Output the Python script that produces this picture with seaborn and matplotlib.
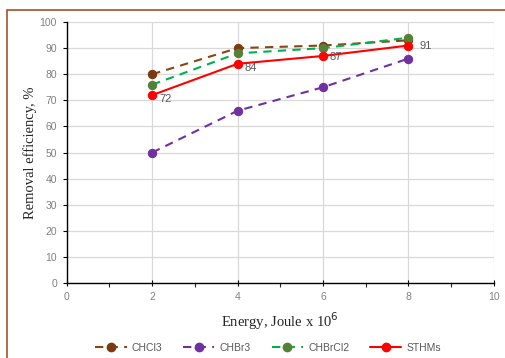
import matplotlib
matplotlib.use("Agg")
import matplotlib.pyplot as plt
import seaborn as sns
import pandas as pd
from matplotlib.patches import Rectangle
from matplotlib.lines import Line2D
from matplotlib.ticker import MultipleLocator

energy = [2, 4, 6, 8]
chcl3 = [80, 90, 91, 93]
chbr3 = [50, 66, 75, 86]
chbrcl2 = [76, 88, 90, 94]
sthms = [72, 84, 87, 91]
series_names = ["CHCl3", "CHBr3", "CHBrCl2", "STHMs"]

sns.set_theme(style="white")

df = pd.DataFrame({
    "Energy": energy * 4,
    "Removal": chcl3 + chbr3 + chbrcl2 + sthms,
    "Series": sum([[n] * 4 for n in series_names], []),
})

styles = {
    "CHCl3": dict(color="#8a4513", mfc="#7b3a10", ls=(0, (4, 3))),
    "CHBr3": dict(color="#7030a0", mfc="#7030a0", ls=(0, (4, 3))),
    "CHBrCl2": dict(color="#00b050", mfc="#548235", ls=(0, (4, 3))),
    "STHMs": dict(color="#ff0000", mfc="#ff0000", ls="-"),
}

fig = plt.figure(figsize=(5.06, 3.58), dpi=100)
ax = fig.add_axes([0.132, 0.2095, 0.844, 0.729])

for name in series_names:
    st = styles[name]
    sub = df[df["Series"] == name]
    sns.lineplot(data=sub, x="Energy", y="Removal", ax=ax, color=st["color"],
                 linestyle=st["ls"], linewidth=1.5, marker="o", markersize=6,
                 markerfacecolor=st["mfc"], markeredgecolor=st["mfc"],
                 legend=False)

# data labels for STHMs
offsets = [(5, -3), (5, -3), (5, -1), (8, -0.5)]
for x, y, off in zip(energy, sthms, offsets):
    ax.annotate(str(y), (x, y), xytext=off, textcoords="offset points",
                ha="left", va="center", fontsize=8, color="#595959",
                family="Liberation Sans")

ax.set_xlim(0, 10)
ax.set_ylim(0, 100)
ax.xaxis.set_major_locator(MultipleLocator(2))
ax.xaxis.set_minor_locator(MultipleLocator(1))
ax.yaxis.set_major_locator(MultipleLocator(10))
ax.grid(True, which="major", color="#d9d9d9", linewidth=0.9)
ax.set_axisbelow(True)
for s in ["top", "right"]:
    ax.spines[s].set_visible(False)
for s in ["left", "bottom"]:
    ax.spines[s].set_color("black")
    ax.spines[s].set_linewidth(1.0)
ax.tick_params(axis="both", which="major", labelsize=7.5, labelcolor="#808080",
               colors="black", length=3, width=0.8, pad=4)
ax.tick_params(axis="x", which="major", direction="inout", length=5, bottom=True)
ax.tick_params(axis="x", which="minor", direction="out", length=3, width=0.8, bottom=True)
ax.tick_params(axis="y", which="major", direction="out", length=3, left=True)
for lab in ax.get_xticklabels() + ax.get_yticklabels():
    lab.set_family("Liberation Sans")

ax.set_xlabel("Energy, Joule x 10$^{6}$", family="Liberation Serif", fontsize=10.5,
              color="#262626", labelpad=6)
ax.set_ylabel("Removal efficiency, %", family="Liberation Serif", fontsize=10.5,
              color="#262626", labelpad=2)

handles = [Line2D([0], [0], color=styles[n]["color"], linestyle=styles[n]["ls"],
                  linewidth=1.5, marker="o", markersize=6,
                  markerfacecolor=styles[n]["mfc"], markeredgecolor=styles[n]["mfc"])
           for n in series_names]
leg = fig.legend(handles, series_names, loc="center", bbox_to_anchor=(0.53, 0.028),
                 ncol=4, frameon=False, numpoints=1, handlelength=3.0,
                 columnspacing=2.0, handletextpad=0.5,
                 prop={"family": "Liberation Sans", "size": 7.5})
for t in leg.get_texts():
    t.set_color("#595959")

# outer border (brown)
fig.patches.append(Rectangle((7 / 506, -0.1), 1.2, (1 - 10 / 358) + 0.1,
                             transform=fig.transFigure, fill=False,
                             edgecolor="#a0522d", linewidth=1.2))

fig.savefig("out.png", dpi=100)
